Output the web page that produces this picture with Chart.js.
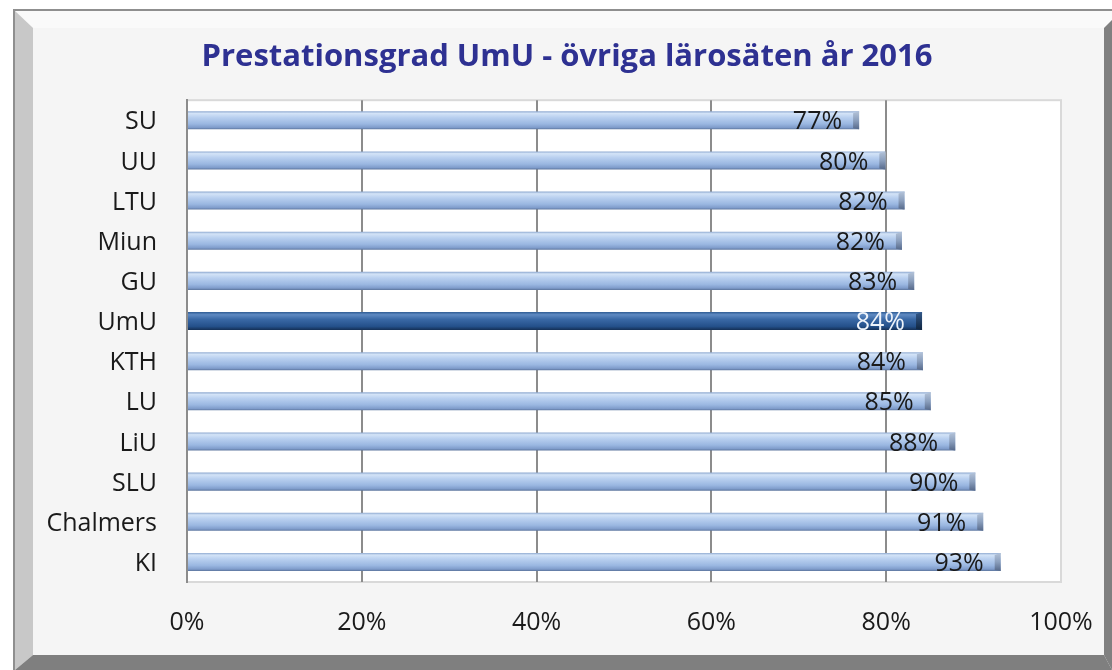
<!DOCTYPE html>
<html>
<head>
<meta charset="utf-8">
<script src="https://cdn.jsdelivr.net/npm/chart.js@4"></script>
<style>
  html, body { margin: 0; padding: 0; background: #fff; }
  #wrap { width: 1112px; height: 670px; }
</style>
</head>
<body>
<div id="wrap"><canvas id="chart" width="1112" height="670"></canvas></div>
<script>
// --- data ---
const schools = ['SU', 'UU', 'LTU', 'Miun', 'GU', 'UmU', 'KTH', 'LU', 'LiU', 'SLU', 'Chalmers', 'KI'];
const rates = [76.9, 79.9, 82.1, 81.8, 83.2, 84.1, 84.2, 85.1, 87.9, 90.2, 91.1, 93.1];
const rateLabels = ['77%', '80%', '82%', '82%', '83%', '84%', '84%', '85%', '88%', '90%', '91%', '93%'];
const xTicks = [0, 20, 40, 60, 80, 100];
const highlight = 'UmU';
const titleText = 'Prestationsgrad UmU - övriga lärosäten år 2016';

const FONT = '"Open Sans", sans-serif';
Chart.defaults.font.family = FONT;

function poly(c, pts, fill) {
    c.beginPath();
    c.moveTo(pts[0][0], pts[0][1]);
    for (let i = 1; i < pts.length; i++) c.lineTo(pts[i][0], pts[i][1]);
    c.closePath();
    c.fillStyle = fill;
    c.fill();
}

// gradient per bar, based on where the y scale puts the category
function barFill(context) {
    const chart = context.chart;
    if (!chart.chartArea || !chart.scales.y) return '#a8c4e8';
    const y = chart.scales.y.getPixelForValue(context.dataIndex);
    const h = 18;
    const g = chart.ctx.createLinearGradient(0, y - h / 2, 0, y + h / 2);
    if (schools[context.dataIndex] === highlight) {
        g.addColorStop(0, '#2f5c94');
        g.addColorStop(0.15, '#5f8ac2');
        g.addColorStop(0.4, '#3a69a6');
        g.addColorStop(0.8, '#24508a');
        g.addColorStop(1, '#142f55');
    } else {
        g.addColorStop(0, '#8ea9d0');
        g.addColorStop(0.12, '#d3e3f7');
        g.addColorStop(0.35, '#b8cfef');
        g.addColorStop(0.7, '#9ab7e1');
        g.addColorStop(0.9, '#7f9ccb');
        g.addColorStop(1, '#5d769e');
    }
    return g;
}

// outer bevelled frame + white plot area
const framePlugin = {
    id: 'frame',
    afterLayout(chart) {
        // title is centred over the plot block, not the whole canvas
        if (chart.titleBlock) chart.titleBlock.left = 73;
    },
    beforeDraw(chart) {
        const c = chart.ctx;
        const W = chart.width, H = chart.height;
        const a = chart.chartArea;
        c.save();
        c.fillStyle = '#ffffff';
        c.fillRect(0, 0, W, H);
        c.fillStyle = '#f5f5f5';
        c.fillRect(14, 10, W - 14, H - 10);
        poly(c, [[15, 11], [W, 11], [W, 20], [1104, 28], [33, 28]], '#fafafa');
        poly(c, [[15, 11], [33, 28], [33, 655], [15, H]], '#c8c8c8');
        poly(c, [[1104, 28], [W, 20], [W, H], [1104, 655]], '#808080');
        poly(c, [[15, H], [33, 655], [1104, 655], [W, H]], '#7f7f7f');
        c.strokeStyle = '#8f8f8f';
        c.lineWidth = 2;
        c.beginPath();
        c.moveTo(14, H);
        c.lineTo(14, 10);
        c.lineTo(W, 10);
        c.stroke();
        c.fillStyle = '#ffffff';
        c.fillRect(a.left, a.top, a.right - a.left, a.bottom - a.top);
        c.strokeStyle = '#d9d9d9';
        c.lineWidth = 2;
        c.strokeRect(a.left, a.top, a.right - a.left, a.bottom - a.top);
        c.restore();
    }
};

// 3d end caps and value labels
const barDecor = {
    id: 'barDecor',
    afterDatasetsDraw(chart) {
        const c = chart.ctx;
        const meta = chart.getDatasetMeta(0);
        c.save();
        meta.data.forEach((bar, i) => {
            const top = bar.y - bar.height / 2;
            const isHi = schools[i] === highlight;
            const g = c.createLinearGradient(0, top, 0, top + bar.height);
            if (isHi) {
                g.addColorStop(0, '#34598a');
                g.addColorStop(1, '#0f2540');
            } else {
                g.addColorStop(0, '#b4c3d8');
                g.addColorStop(0.5, '#8b9fbd');
                g.addColorStop(1, '#56698a');
            }
            c.fillStyle = g;
            c.beginPath();
            c.moveTo(bar.x - 6, top + 2);
            c.lineTo(bar.x, top);
            c.lineTo(bar.x, top + bar.height);
            c.lineTo(bar.x - 6, top + bar.height - 1);
            c.closePath();
            c.fill();

            c.font = '25px ' + FONT;
            c.textAlign = 'right';
            c.textBaseline = 'middle';
            c.fillStyle = isHi ? '#eef3fa' : '#1a1a1a';
            c.fillText(rateLabels[i], bar.x - 17, bar.y + 2);
        });
        c.restore();
    }
};

new Chart(document.getElementById('chart').getContext('2d'), {
    type: 'bar',
    data: {
        labels: schools,
        datasets: [{
            data: rates,
            backgroundColor: barFill,
            borderWidth: 0,
            categoryPercentage: 1,
            barPercentage: 0.45
        }]
    },
    options: {
        indexAxis: 'y',
        responsive: false,
        animation: false,
        layout: { padding: { left: 0, right: 51, top: 0, bottom: 0 } },
        plugins: {
            legend: { display: false },
            tooltip: { enabled: false },
            title: {
                display: true,
                text: titleText,
                color: '#2e3192',
                font: { family: FONT, size: 31, weight: 'bold' },
                padding: { top: 39, bottom: 24 }
            }
        },
        scales: {
            x: {
                min: 0,
                max: 100,
                afterBuildTicks(scale) {
                    scale.ticks = xTicks.map(v => ({ value: v }));
                },
                afterFit(scale) {
                    scale.height = 88;
                    scale.paddingLeft = 0;
                    scale.paddingRight = 0;
                },
                grid: {
                    drawTicks: false,
                    lineWidth: 2,
                    color: ctx => (ctx.tick && ctx.tick.value === 100) ? '#d9d9d9' : '#8c8c8c'
                },
                border: { display: false },
                ticks: {
                    padding: 26,
                    color: '#1a1a1a',
                    font: { size: 25 },
                    callback: v => v + '%'
                }
            },
            y: {
                afterFit(scale) { scale.width = 187; },
                grid: { display: false, drawTicks: false },
                border: { display: true, color: '#8c8c8c', width: 2 },
                ticks: {
                    padding: 30,
                    labelOffset: 2,
                    color: '#1a1a1a',
                    font: { size: 25 }
                }
            }
        }
    },
    plugins: [framePlugin, barDecor]
});
</script>
</body>
</html>
